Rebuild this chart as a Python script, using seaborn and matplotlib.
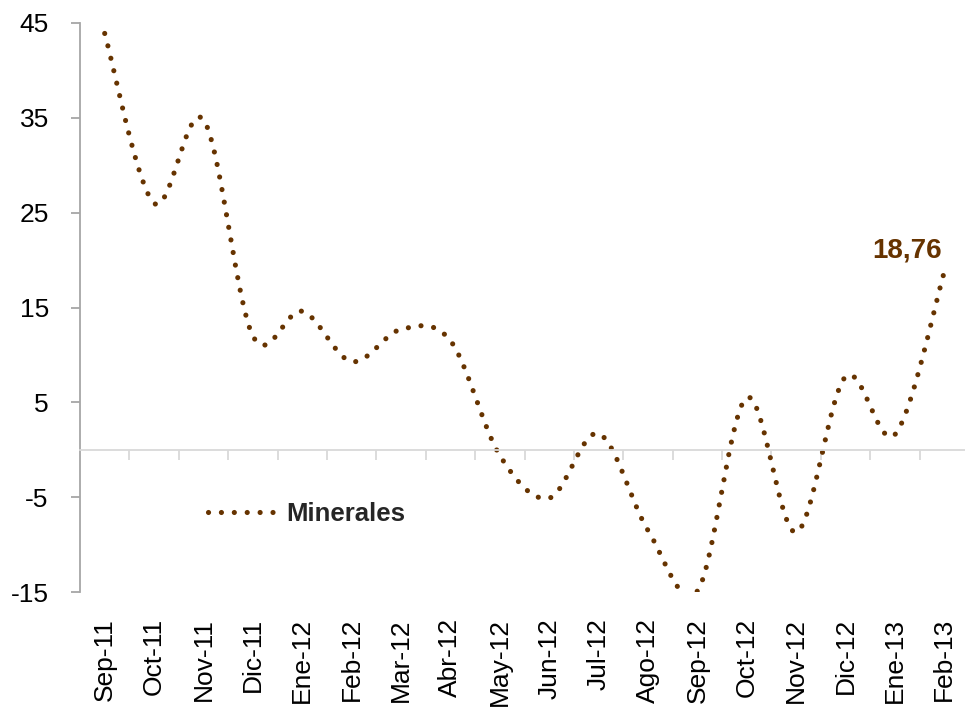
import numpy as np
import pandas as pd
import matplotlib
matplotlib.use("Agg")
import matplotlib.pyplot as plt
import seaborn as sns

# Monthly variation series
months = ["Sep-11", "Oct-11", "Nov-11", "Dic-11", "Ene-12", "Feb-12", "Mar-12",
          "Abr-12", "May-12", "Jun-12", "Jul-12", "Ago-12", "Sep-12", "Oct-12",
          "Nov-12", "Dic-12", "Ene-13", "Feb-13"]
minerales = [43.9, 26.0, 34.8, 12.0, 14.6, 9.3, 12.7, 11.5, -0.6, -5.1, 1.7,
             -8.5, -14.9, 5.5, -8.7, 7.7, 1.6, 18.76]
y_ticks = [-15, -5, 5, 15, 25, 35, 45]
series_name = "Minerales"
last_label = "18,76"

BROWN = "#663300"
LW = 3.7            # line width in points
DOT_STEP_PX = 12.8  # nominal distance between dots


def smooth_path(x, y, n=40):
    """Cubic Bezier path through every point, control points from neighbour slopes."""
    pts = np.column_stack([x, y]).astype(float)
    padded = np.vstack([pts[0], pts, pts[-1]])
    t = np.linspace(0, 1, n, endpoint=False)[:, None]
    segs = []
    for i in range(len(pts) - 1):
        p0, p3 = pts[i], pts[i + 1]
        p1 = p0 + (padded[i + 2] - padded[i]) / 6.0
        p2 = p3 - (padded[i + 3] - padded[i + 1]) / 6.0
        segs.append((1 - t) ** 3 * p0 + 3 * (1 - t) ** 2 * t * p1
                    + 3 * (1 - t) * t ** 2 * p2 + t ** 3 * p3)
    segs.append(pts[-1:])
    return np.vstack(segs)


sns.set_theme(style="white")
plt.rcParams["font.family"] = ["Liberation Sans", "DejaVu Sans"]

W, H, DPI = 965, 715, 100
fig = plt.figure(figsize=(W / DPI, H / DPI), dpi=DPI)
fig.patch.set_facecolor("white")
ax_h_px = 569
ax = fig.add_axes([80 / W, 123 / H, 889 / W, ax_h_px / H])

ymin, ymax = y_ticks[0], y_ticks[-1]
ax.set_xlim(-0.5, len(months) - 0.5)
ax.set_ylim(ymin, ymax)

xpos = np.arange(len(months))
curve = smooth_path(xpos, minerales)
df = pd.DataFrame({"x": curve[:, 0], "y": curve[:, 1]})

# Fit a whole number of dots along the curve so both ends carry a dot
disp = ax.transData.transform(curve)
length_px = np.sum(np.hypot(*np.diff(disp, axis=0).T))
n_steps = max(1, round(length_px / DOT_STEP_PX))
step_pt = (length_px / n_steps) * 0.998 * 72 / DPI
gap = step_pt / LW - 0.01

sns.lineplot(data=df, x="x", y="y", ax=ax, sort=False, estimator=None,
             color=BROWN, linewidth=LW, linestyle=(0, (0.01, gap)),
             dash_capstyle="round", label=series_name)

ax.set_xlim(-0.5, len(months) - 0.5)
ax.set_ylim(ymin, ymax)
ax.set_xlabel("")
ax.set_ylabel("")

# Value label on the last month
ax.annotate(last_label, xy=(xpos[-1], minerales[-1]), xytext=(-37, 8),
            textcoords="offset pixels", ha="center", va="bottom",
            fontsize=20, fontweight="bold", color=BROWN)

# Spines
for side in ("top", "right"):
    ax.spines[side].set_visible(False)
ax.spines["left"].set_color("#A6A6A6")
ax.spines["left"].set_linewidth(1.3)
ax.spines["bottom"].set_position(("data", 0))
ax.spines["bottom"].set_color("#D9D9D9")
ax.spines["bottom"].set_linewidth(1.3)

# Y axis
ax.set_yticks(y_ticks)
ax.set_yticklabels([str(v) for v in y_ticks])
ax.tick_params(axis="y", which="major", direction="out", length=6.5, width=1.3,
               color="#A6A6A6", pad=16, labelsize=19, labelcolor="black", left=True)

# X axis: category labels at the bottom, boundary ticks on the zero line
zero_px = (0 - ymin) / (ymax - ymin) * ax_h_px
label_pad = (zero_px + 26) * 72 / DPI
ax.set_xticks(xpos)
ax.set_xticklabels(months, rotation=90, va="top", ha="center")
ax.set_xticks(xpos[:-1] + 0.5, minor=True)
ax.tick_params(axis="x", which="major", length=0, pad=label_pad, labelsize=19,
               labelcolor="black", bottom=True)
ax.tick_params(axis="x", which="minor", direction="out", length=7.2, width=1.3,
               color="#D9D9D9", bottom=True)
ax.grid(False)

leg = ax.legend(loc="center left", bbox_to_anchor=(208 / W, 1 - 514 / H),
                bbox_transform=fig.transFigure, frameon=False,
                prop={"weight": "bold", "size": 18.5}, handlelength=2.6,
                handletextpad=0.45, borderpad=0, borderaxespad=0)
for h in leg.get_lines():
    h.set_linestyle((0, (0.01, 2.5)))

fig.savefig("out.png", dpi=DPI, facecolor="white")
